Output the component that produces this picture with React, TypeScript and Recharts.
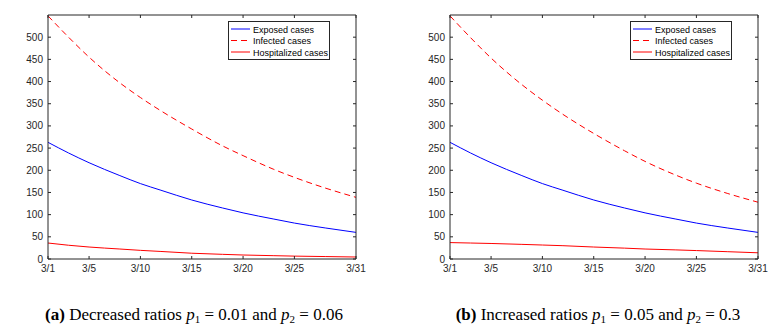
import { LineChart, Line, XAxis, YAxis } from "recharts";

const days = [1, 3, 5, 8, 10, 12, 15, 18, 20, 23, 25, 28, 31];
const xTicks = [1, 5, 10, 15, 20, 25, 31];
const yTicks = [0, 50, 100, 150, 200, 250, 300, 350, 400, 450, 500];

// (a) decreased ratios
const exposedA = [263, 239, 217, 188, 170, 155, 133, 115, 104, 90, 81, 70, 60];
const infectedA = [548, 500, 455, 397, 364, 334, 293, 255, 233, 202, 184, 160, 139];
const hospitalA = [36, 31, 27, 22.5, 19.5, 17, 13, 10.5, 9, 7.5, 6.5, 5.5, 4.5];

// (b) increased ratios
const exposedB = [263, 239, 217, 188, 170, 155, 133, 115, 104, 90, 81, 70, 60];
const infectedB = [548, 499, 453, 393, 358, 326, 283, 244, 220, 189, 171, 148, 128];
const hospitalB = [37, 36, 35, 33, 31.5, 30, 27, 24.5, 22.5, 20.5, 19, 16.5, 14];

const AX = "#262626";
const FONT = "'Liberation Sans', Arial, sans-serif";

const build = (e: number[], i: number[], h: number[]) =>
  days.map((d, k) => ({ day: d, exposed: e[k], infected: i[k], hosp: h[k] }));

function LegendBox() {
  const rows = [
    { label: "Exposed cases", color: "#0000ff", dash: undefined },
    { label: "Infected cases", color: "#ff0000", dash: "6 4" },
    { label: "Hospitalized cases", color: "#ff0000", dash: undefined },
  ];
  return (
    <svg width={102} height={39} style={{ position: "absolute", left: 228, top: 21 }}>
      <rect x={0.5} y={0.5} width={101} height={38} fill="#fff" stroke={AX} strokeWidth={1} />
      {rows.map((r, k) => (
        <g key={r.label}>
          <line x1={3} x2={22} y1={8 + k * 11.5} y2={8 + k * 11.5} stroke={r.color} strokeDasharray={r.dash} strokeWidth={1} />
          <text x={25} y={11.5 + k * 11.5} fontSize={9} fontFamily={FONT} fill="#000">
            {r.label}
          </text>
        </g>
      ))}
    </svg>
  );
}

const blank = () => "";

function Panel({ data, left }: { data: any[]; left: number }) {
  return (
    <div style={{ position: "absolute", left, top: 0, width: 380, height: 290 }}>
      <LineChart width={380} height={290} data={data} margin={{ top: 14, right: 23, left: 8, bottom: 1 }}>
        <XAxis
          dataKey="day"
          type="number"
          domain={[1, 31]}
          ticks={xTicks}
          tickFormatter={(v) => `3/${v}`}
          tick={{ fill: AX, fontSize: 10, fontFamily: FONT }}
          stroke={AX}
          tickSize={-3}
          tickMargin={9}
          height={30}
          interval={0}
        />
        <XAxis xAxisId="top" orientation="top" type="number" dataKey="day" domain={[1, 31]} ticks={xTicks} tickFormatter={blank} stroke={AX} tickSize={-3} height={1} interval={0} />
        <YAxis
          type="number"
          domain={[0, 550]}
          ticks={yTicks}
          tick={{ fill: AX, fontSize: 10, fontFamily: FONT }}
          stroke={AX}
          tickSize={-3}
          tickMargin={8}
          width={40}
          interval={0}
        />
        <YAxis yAxisId="right" orientation="right" type="number" domain={[0, 550]} ticks={yTicks} tickFormatter={blank} stroke={AX} tickSize={-3} width={1} interval={0} />
        <Line dataKey="exposed" stroke="#0000ff" strokeWidth={1} dot={false} type="monotone" isAnimationActive={false} />
        <Line dataKey="infected" stroke="#ff0000" strokeWidth={1} strokeDasharray="6 4" dot={false} type="monotone" isAnimationActive={false} />
        <Line dataKey="hosp" stroke="#ff0000" strokeWidth={1} dot={false} type="monotone" isAnimationActive={false} />
        {/* hidden series so the mirrored top/right axes are drawn */}
        <Line xAxisId="top" yAxisId="right" dataKey="exposed" stroke="none" dot={false} activeDot={false} legendType="none" isAnimationActive={false} />
      </LineChart>
      <LegendBox />
    </div>
  );
}

const captionStyle: React.CSSProperties = {
  position: "absolute",
  top: 305,
  lineHeight: "20px",
  fontFamily: "'Liberation Serif', 'Times New Roman', serif",
  fontSize: 17,
  color: "#000",
  whiteSpace: "nowrap",
  transform: "translateX(-50%)",
};

const subStyle: React.CSSProperties = { fontSize: 11, verticalAlign: "-3px", lineHeight: 0 };

export default function App() {
  return (
    <div style={{ position: "absolute", left: 0, top: 0, width: 782, height: 330, background: "#fff" }}>
      <Panel data={build(exposedA, infectedA, hospitalA)} left={0} />
      <Panel data={build(exposedB, infectedB, hospitalB)} left={402} />
      <div style={{ ...captionStyle, left: 194 }}>
        <b>(a)</b> Decreased ratios <i>p</i><span style={subStyle}>1</span> = 0.01 and <i>p</i><span style={subStyle}>2</span> = 0.06
      </div>
      <div style={{ ...captionStyle, left: 598 }}>
        <b>(b)</b> Increased ratios <i>p</i><span style={subStyle}>1</span> = 0.05 and <i>p</i><span style={subStyle}>2</span> = 0.3
      </div>
    </div>
  );
}
